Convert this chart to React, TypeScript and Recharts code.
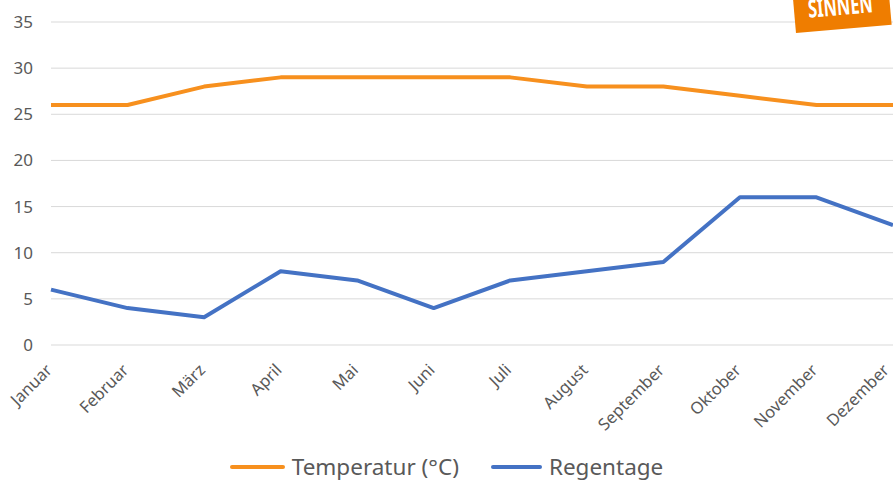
import { LineChart, Line, XAxis, YAxis, CartesianGrid, Legend } from "recharts"

const months = ["Januar", "Februar", "März", "April", "Mai", "Juni", "Juli", "August", "September", "Oktober", "November", "Dezember"]
const temperatur = [26, 26, 28, 29, 29, 29, 29, 28, 28, 27, 26, 26]
const regentage = [6, 4, 3, 8, 7, 4, 7, 8, 9, 16, 16, 13]
const yTicks = [0, 5, 10, 15, 20, 25, 30, 35]

const data = months.map((m, i) => ({ month: m, temperatur: temperatur[i], regentage: regentage[i] }))

const FONT = "'Noto Sans', sans-serif"
const TEXT = "#595959"

const legendItems = [
  { key: "temperatur", label: "Temperatur (°C)", color: "#F7901E", lineWidth: 55 },
  { key: "regentage", label: "Regentage", color: "#4472C4", lineWidth: 51 },
]

function MonthTick(props: any) {
  const { x, y, payload } = props
  const ax = Math.min(x - 2, 886)
  return (
    <g transform={`translate(${ax},${y + 14}) rotate(-45)`}>
      <text x={0} y={0} dy="0.35em" textAnchor="end" fill={TEXT} fontSize={16.5} fontFamily={FONT}>
        {payload.value}
      </text>
    </g>
  )
}

function LegendContent() {
  return (
    <div style={{ display: "flex", justifyContent: "center", alignItems: "center", gap: 32, fontFamily: FONT }}>
      {legendItems.map((p) => (
        <div key={p.key} style={{ display: "flex", alignItems: "center" }}>
          <div style={{ width: p.lineWidth, height: 4, background: p.color, borderRadius: 2, marginRight: 7 }} />
          <span style={{ fontSize: 22.5, color: TEXT }}>{p.label}</span>
        </div>
      ))}
    </div>
  )
}

export default function App() {
  return (
    <div style={{ position: "absolute", left: 0, top: 0, width: 893, height: 481, background: "#fff", overflow: "hidden" }}>
      <LineChart width={893} height={481} data={data} margin={{ top: 22, right: 0, bottom: 0, left: 0 }}>
        <CartesianGrid horizontal vertical={false} stroke="#d9d9d9" />
        <XAxis dataKey="month" axisLine={false} tickLine={false} interval={0} height={106} tick={<MonthTick />} />
        <YAxis
          domain={[0, 35]}
          ticks={yTicks}
          width={51}
          axisLine={false}
          tickLine={false}
          tickMargin={12}
          tick={{ fill: TEXT, fontSize: 17, fontFamily: FONT }}
        />
        <Legend verticalAlign="bottom" height={30} content={<LegendContent />} />
        <Line type="linear" dataKey="temperatur" name="Temperatur (°C)" stroke="#F7901E" strokeWidth={4} strokeLinejoin="round" dot={false} isAnimationActive={false} />
        <Line type="linear" dataKey="regentage" name="Regentage" stroke="#4472C4" strokeWidth={4} strokeLinejoin="round" dot={false} isAnimationActive={false} />
      </LineChart>
      {/* logo in the top-right corner, cut off by the picture edge */}
      <div
        style={{
          position: "absolute",
          left: 796,
          top: -25,
          width: 96,
          height: 58,
          background: "#EF7D00",
          transform: "rotate(-5deg)",
          transformOrigin: "left bottom",
          boxSizing: "border-box",
        }}
      >
        <span
          style={{
            position: "absolute",
            left: 14,
            bottom: 11,
            display: "inline-block",
            color: "#fff",
            fontFamily: "'Noto Sans', sans-serif",
            fontWeight: "bold",
            fontSize: 25,
            lineHeight: "25px",
            transform: "scaleX(0.66)",
            transformOrigin: "left bottom",
            whiteSpace: "nowrap",
          }}
        >
          SINNEN
        </span>
      </div>
    </div>
  )
}
